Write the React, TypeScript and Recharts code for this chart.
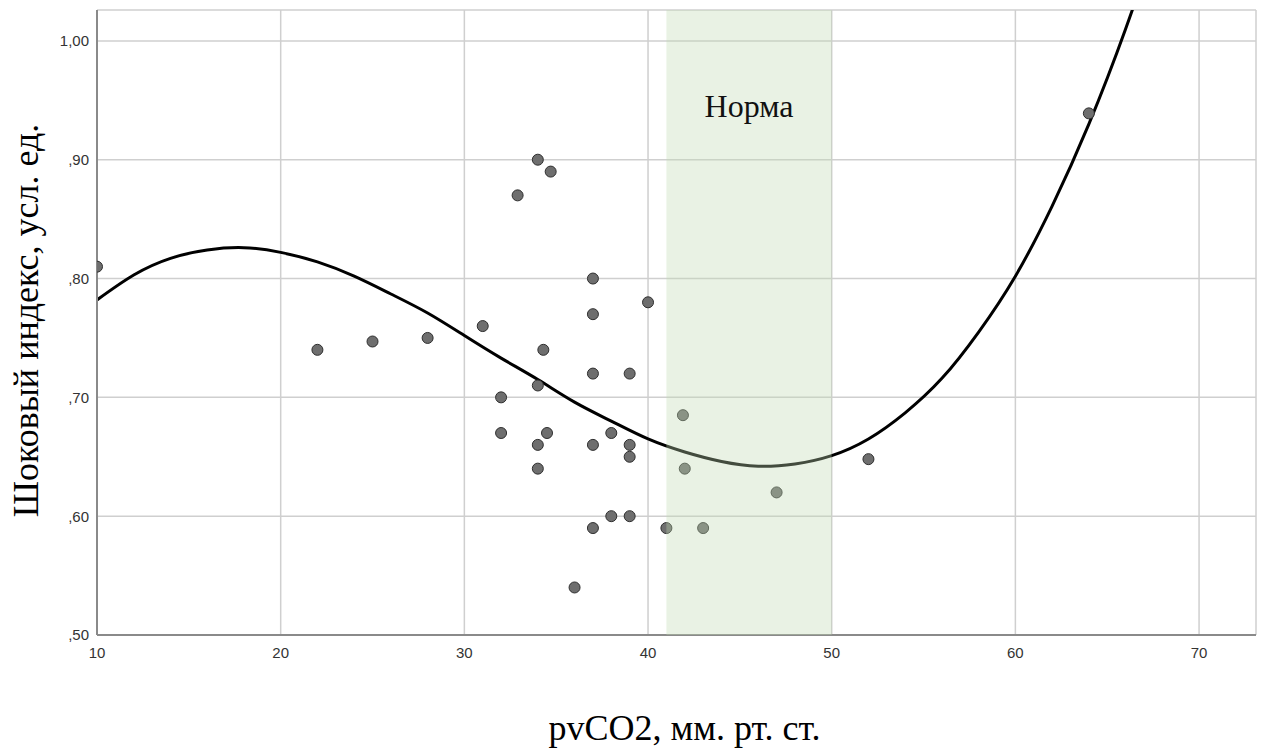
import { ComposedChart, Scatter, Line, XAxis, YAxis, CartesianGrid, ReferenceArea } from 'recharts';

// observed points (pvCO2, shock index)
const pvco2 = [10, 22, 25, 28, 31, 32, 32, 32.9, 34, 34.7, 34, 34.3, 34, 34, 34.5, 36, 37, 37, 37, 37, 37, 38, 38, 39, 39, 39, 39, 40, 41, 41.9, 42, 43, 47, 52, 64];
const shockIndex = [0.81, 0.74, 0.747, 0.75, 0.76, 0.7, 0.67, 0.87, 0.9, 0.89, 0.71, 0.74, 0.66, 0.64, 0.67, 0.54, 0.8, 0.77, 0.72, 0.66, 0.59, 0.67, 0.6, 0.72, 0.66, 0.65, 0.6, 0.78, 0.59, 0.685, 0.64, 0.59, 0.62, 0.648, 0.939];

// fitted curve
const fitX = [10, 12, 14, 16, 18, 20, 22, 24, 26, 28, 30, 32, 34, 36, 38, 40, 42, 44, 46, 48, 50, 52, 54, 56, 58, 60, 62, 64, 66, 68];
const fitY = [0.782, 0.803, 0.817, 0.824, 0.826, 0.822, 0.814, 0.802, 0.787, 0.771, 0.752, 0.733, 0.715, 0.696, 0.68, 0.665, 0.654, 0.646, 0.642, 0.644, 0.651, 0.665, 0.687, 0.716, 0.755, 0.802, 0.861, 0.93, 1.01, 1.1];

const xTicks = [10, 20, 30, 40, 50, 60, 70];
const yTicks = [0.5, 0.6, 0.7, 0.8, 0.9, 1.0];

const normLow = 41;
const normHigh = 50;
const normLabel = 'Норма';

const xTitle = 'pvCO2, мм. рт. ст.';
const yTitle = 'Шоковый индекс, усл. ед.';

const serif = '"Liberation Serif", "Times New Roman", serif';
const sans = '"Liberation Sans", Arial, sans-serif';

const points = pvco2.map((x, i) => ({ x, y: shockIndex[i] }));
const fit = fitX.map((x, i) => ({ x, y: fitY[i] }));

const fmtY = (v: number) => (v >= 1 ? v.toFixed(2).replace('.', ',') : v.toFixed(2).replace('0.', ','));

const Dot = (props: any) => {
    if (props.cx == null || props.cy == null) return null;
    return <circle cx={props.cx} cy={props.cy} r={5.5} fill="#6e6e6e" stroke="#2e2e2e" strokeWidth={1} />;
};

const YTitle = (props: any) => {
    const vb = props.viewBox ?? { x: 0, y: 10, width: 97, height: 625 };
    const cx = vb.x + 38;
    const cy = vb.y + vb.height / 2 - 2;
    return (
        <text x={cx} y={cy} transform={`rotate(-90, ${cx}, ${cy})`} textAnchor="middle" fontFamily={serif} fontSize={36} fill="#000">
            {yTitle}
        </text>
    );
};

const XTitle = (props: any) => {
    const vb = props.viewBox ?? { x: 97, y: 635, width: 1159, height: 116 };
    return (
        <text x={vb.x + vb.width / 2 + 8} y={vb.y + 105} textAnchor="middle" fontFamily={serif} fontSize={36} fill="#000">
            {xTitle}
        </text>
    );
};

export default function App() {
    return (
        <div style={{ position: 'absolute', left: 0, top: 0, width: 1264, height: 751, background: '#fff' }}>
            <ComposedChart width={1264} height={751} margin={{ top: 10, right: 8, bottom: 0, left: 0 }}>
                <CartesianGrid stroke="#cfcfcf" strokeWidth={1.5} />
                <XAxis
                    type="number"
                    dataKey="x"
                    domain={[10, 73.1]}
                    ticks={xTicks}
                    allowDataOverflow
                    height={116}
                    tickLine={false}
                    tickMargin={6}
                    axisLine={{ stroke: '#8a8a8a', strokeWidth: 2 }}
                    tick={{ fill: '#333', fontSize: 15, fontFamily: sans }}
                    label={<XTitle />}
                />
                <YAxis
                    type="number"
                    dataKey="y"
                    domain={[0.5, 1.026]}
                    ticks={yTicks}
                    allowDataOverflow
                    width={97}
                    tickLine={false}
                    tickFormatter={fmtY}
                    axisLine={{ stroke: '#8a8a8a', strokeWidth: 2 }}
                    tick={{ fill: '#333', fontSize: 15, fontFamily: sans }}
                    label={<YTitle />}
                />
                <Scatter data={points} dataKey="y" shape={Dot} isAnimationActive={false} />
                <Line data={fit} dataKey="y" type="natural" stroke="#000" strokeWidth={3} dot={false} activeDot={false} isAnimationActive={false} />
                <ReferenceArea
                    x1={normLow}
                    x2={normHigh}
                    fill="#c0dab2"
                    fillOpacity={0.35}
                    stroke="none"
                    zIndex={1000}
                    label={{ value: normLabel, position: 'insideTop', offset: 84, fill: '#111', fontSize: 32, fontFamily: serif }}
                />
            </ComposedChart>
        </div>
    );
}
